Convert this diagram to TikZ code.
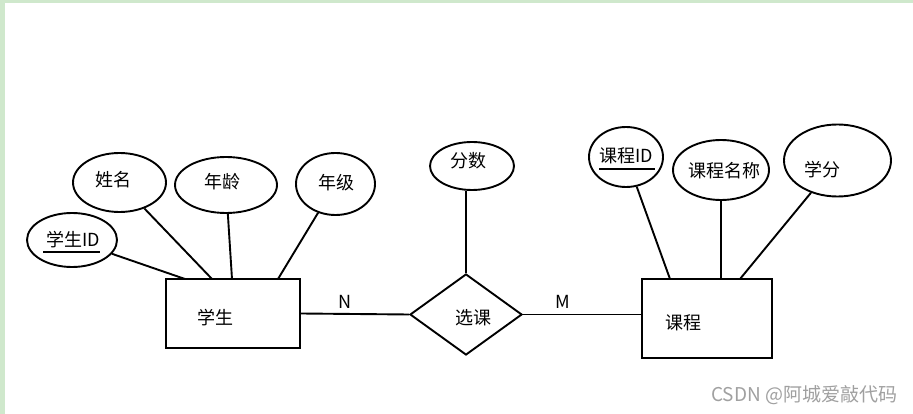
\documentclass[tikz,border=0pt]{standalone}
\usepackage{fontspec}
\setmainfont{Noto Sans CJK SC}
\usetikzlibrary{shapes.geometric}
\definecolor{bordergreen}{HTML}{CFE8CC}
\definecolor{wmgray}{HTML}{A0A0A0}
\begin{document}
\begin{tikzpicture}[x=1pt,y=-1pt,
  line width=1.9pt,
  attr/.style={draw,ellipse,inner sep=0pt},
  entity/.style={draw,rectangle,inner sep=0pt},
  rel/.style={draw,diamond,inner sep=0pt},
  lbl/.style={font=\fontsize{18}{21}\selectfont,inner sep=0pt},
  wmark/.style={font=\fontsize{19}{22}\selectfont,text=wmgray,inner sep=0pt,anchor=east}
]
\useasboundingbox (0,0) rectangle (913,414);
\fill[white] (0,0) rectangle (913,414);
\fill[bordergreen] (0,0) rectangle (913,3);
\fill[bordergreen] (0,0) rectangle (5,414);

% entities and relationship
\node[entity,minimum width=134pt,minimum height=69pt] (stu) at (233,313.5) {};
\node[lbl] (stut) at (215,318) {学生};
\node[entity,minimum width=130pt,minimum height=79pt] (crs) at (707,318.5) {};
\node[lbl] (crst) at (683,323) {课程};
\node[rel,minimum width=112pt,minimum height=81pt] (sel) at (466,314.5) {};
\node[lbl] (selt) at (473,318) {选课};

% attributes of student
\node[attr,minimum width=90pt,minimum height=54pt] (sid) at (72,240) {};
\node[lbl] (sidt) at (73,240) {学生ID};
\node[attr,minimum width=93pt,minimum height=59pt] (sname) at (119.5,182.5) {};
\node[lbl] (snamet) at (113,180) {姓名};
\node[attr,minimum width=102pt,minimum height=56pt] (sage) at (226,185) {};
\node[lbl] (saget) at (222,182) {年龄};
\node[attr,minimum width=79pt,minimum height=62pt] (sgrade) at (335.5,184) {};
\node[lbl] (sgradet) at (336,183) {年级};

% attribute of relationship
\node[attr,minimum width=84pt,minimum height=48pt] (score) at (472,166) {};
\node[lbl] (scoret) at (468,161) {分数};

% attributes of course
\node[attr,minimum width=74pt,minimum height=60pt] (cid) at (626,157) {};
\node[lbl] (cidt) at (626,156) {课程ID};
\node[attr,minimum width=96pt,minimum height=60pt] (cname) at (721,170) {};
\node[lbl] (cnamet) at (724,171) {课程名称};
\node[attr,minimum width=107pt,minimum height=72pt] (credit) at (837.5,160.5) {};
\node[lbl] (creditt) at (822.5,170) {学分};

% underlines for keys
\coordinate (u1a) at (43,252); \coordinate (u1b) at (100,252);
\coordinate (u2a) at (599,169); \coordinate (u2b) at (655,169);
\draw (u1a) -- (u1b);
\draw (u2a) -- (u2b);

% connection points on entity tops
\coordinate (s1) at (185,279);
\coordinate (s2) at (212,279);
\coordinate (s3) at (232,279);
\coordinate (s4) at (278,279);
\coordinate (c1) at (670,279);
\coordinate (c2) at (721,279);
\coordinate (c3) at (740,279);

\draw (sid) -- (s1);
\draw (sname) -- (s2);
\draw (sage) -- (s3);
\draw (sgrade) -- (s4);
\draw (cid) -- (c1);
\draw (cname) -- (c2);
\draw (credit) -- (c3);
\draw (sel.north) -- (sel.north |- score.south);

% relationship lines
\coordinate (crsin) at (crs.west |- sel.east);
\draw (stu.east) -- (sel.west);
\draw (sel.east) -- (crsin);
\node[lbl] (nlab) at (345,302) {N};
\node[lbl] (mlab) at (563,302) {M};

\node[wmark] (wm) at (898,395) {CSDN @阿城爱敲代码};
\end{tikzpicture}
\end{document}
